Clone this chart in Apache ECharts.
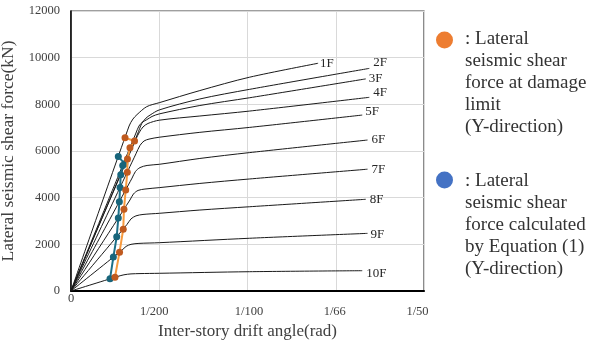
<!DOCTYPE html>
<html>
<head>
<meta charset="utf-8">
<script src="https://cdn.jsdelivr.net/npm/echarts@6/dist/echarts.min.js"></script>
<style>
html,body{margin:0;padding:0;background:#fff;}
#chart{width:589px;height:345px;}
</style>
</head>
<body>
<div id="chart"></div>
<script>
// ---- data (x: inter-story drift angle in rad, y: lateral seismic shear force in kN) ----
const floorNames = ['1F','2F','3F','4F','5F','6F','7F','8F','9F','10F'];
const curve1F  = [[0,0],[0.00329,7070],[0.00351,7370],[0.00374,7560],[0.00429,7900],[0.0050,8070],[0.0073,8590],[0.0101,9160],[0.0140,9760]];
const curve2F  = [[0,0],[0.00377,6730],[0.00401,7180],[0.00425,7410],[0.00448,7540],[0.0050,7760],[0.0073,8230],[0.0101,8640],[0.0169,9540]];
const curve3F  = [[0,0],[0.00368,6770],[0.00385,7070],[0.00402,7220],[0.00429,7340],[0.00459,7480],[0.0050,7590],[0.0073,7950],[0.0101,8280],[0.0167,9090]];
const curve4F  = [[0,0],[0.00368,6510],[0.00388,6810],[0.00408,7030],[0.00436,7180],[0.0050,7320],[0.0073,7500],[0.0101,7710],[0.0169,8300]];
const curve5F  = [[0,0],[0.00368,5880],[0.00391,6240],[0.00414,6430],[0.00442,6510],[0.0050,6590],[0.0073,6800],[0.0101,7010],[0.0165,7540]];
const curve6F  = [[0,0],[0.00346,4840],[0.00365,5120],[0.00391,5290],[0.00431,5380],[0.0050,5430],[0.0073,5680],[0.0101,5930],[0.0168,6470]];
const curve7F  = [[0,0],[0.00334,3900],[0.00354,4160],[0.0038,4310],[0.00419,4370],[0.0050,4430],[0.0073,4610],[0.0101,4800],[0.0168,5220]];
const curve8F  = [[0,0],[0.00317,2850],[0.0034,3090],[0.00368,3220],[0.00408,3280],[0.0050,3330],[0.0073,3470],[0.0101,3610],[0.0167,3930]];
const curve9F  = [[0,0],[0.00289,1750],[0.00312,1910],[0.0034,2000],[0.00385,2040],[0.0050,2070],[0.0101,2260],[0.0168,2470]];
const curve10F = [[0,0],[0.00266,626],[0.0030,694],[0.0034,733],[0.00391,746],[0.0050,759],[0.0101,827],[0.0165,870]];
const curves = [curve1F,curve2F,curve3F,curve4F,curve5F,curve6F,curve7F,curve8F,curve9F,curve10F];

// shear at damage limit (orange) and by Equation (1) (blue), floors 1F..10F
const damageLimit = [[0.00306,6570],[0.0036,6430],[0.00334,6140],[0.0032,5660],[0.00319,5090],[0.0031,4330],[0.0030,3500],[0.00296,2650],[0.00275,1665],[0.00249,587]];
const equationShear = [[0.00268,5760],[0.00305,5450],[0.00293,5380],[0.00282,4980],[0.00278,4440],[0.00274,3830],[0.00268,3130],[0.00259,2330],[0.0024,1455],[0.00221,520]];

const xTickLabels = ['0','1/200','1/100','1/66','1/50'];
const yMin = 0, yMax = 12000, yStep = 2000;
const xMin = 0, xMax = 0.02, xStep = 0.005;

const legendDamage = ': Lateral\nseismic shear\nforce at damage\nlimit\n(Y-direction)';
const legendEquation = ': Lateral\nseismic shear\nforce calculated\nby Equation (1)\n(Y-direction)';

// ---- styling ----
const serif = '"Liberation Serif","Times New Roman",serif';
const endOffsets = [[0,0],[2,-6],[1,0],[2,-5],[1,-3],[2,0],[2,0],[2,0],[1,1],[2,3]];

const chart = echarts.init(document.getElementById('chart'), null, {renderer:'canvas'});

const series = curves.map((c, i) => ({
  name: floorNames[i],
  type: 'line',
  data: c,
  showSymbol: false,
  symbol: 'none',
  smooth: 0.3,
  lineStyle: {color:'#1a1a1a', width:1},
  emphasis: {disabled:true},
  endLabel: {
    show: true,
    formatter: floorNames[i],
    distance: 2,
    offset: endOffsets[i],
    fontFamily: serif,
    fontSize: 13,
    color: '#262626'
  },
  z: 2
}));

series.push({
  name: 'equation',
  type: 'line',
  data: equationShear,
  symbol: 'circle',
  symbolSize: 7,
  showSymbol: true,
  lineStyle: {color:'#1d7088', width:2},
  itemStyle: {color:'#18657b'},
  emphasis: {disabled:true},
  z: 3
});
series.push({
  name: 'damage',
  type: 'line',
  data: damageLimit,
  symbol: 'circle',
  symbolSize: 7,
  showSymbol: true,
  lineStyle: {color:'#f79a3e', width:2},
  itemStyle: {color:'#bf5a1f'},
  emphasis: {disabled:true},
  z: 4
});

const richBase = {fontFamily: serif, fontSize: 12.5, color:'#404040'};
const option = {
  animation: false,
  backgroundColor: '#ffffff',
  grid: {left:71, top:11, right:165, bottom:54, containLabel:false, outerBoundsMode:'none',
         show:true, borderColor:'#404040', borderWidth:1.2, backgroundColor:'transparent'},
  xAxis: {
    type: 'value',
    min: xMin, max: xMax, interval: xStep,
    name: 'Inter-story drift angle(rad)',
    nameLocation: 'middle',
    nameGap: 27,
    nameTextStyle: {fontFamily: serif, fontSize: 17, color:'#404040'},
    axisLine: {show:true, lineStyle:{color:'#000', width:2}},
    axisTick: {show:false},
    splitLine: {show:true, lineStyle:{color:'#d9d9d9', width:1}},
    axisLabel: {
      margin: 1,
      formatter: function (v) {
        const i = Math.round(v / xStep);
        if (i === 0) return '{z|' + xTickLabels[0] + '}';
        return '{t' + i + '|' + xTickLabels[i] + '}';
      },
      rich: {
        z: Object.assign({}, richBase),
        t1: Object.assign({padding:[13,10,0,0]}, richBase),
        t2: Object.assign({padding:[13,0,0,3]}, richBase),
        t3: Object.assign({padding:[13,2,0,0]}, richBase),
        t4: Object.assign({padding:[13,13,0,0]}, richBase)
      }
    }
  },
  yAxis: {
    type: 'value',
    min: yMin, max: yMax, interval: yStep,
    name: 'Lateral seismic shear force(kN)',
    nameLocation: 'middle',
    nameGap: 38,
    nameRotate: 90,
    nameTextStyle: {fontFamily: serif, fontSize: 17.5, color:'#404040'},
    axisLine: {show:true, lineStyle:{color:'#000', width:1.5}},
    axisTick: {show:false},
    splitLine: {show:true, lineStyle:{color:'#d9d9d9', width:1}},
    axisLabel: {margin: 11, fontFamily: serif, fontSize: 12.5, color:'#404040',
                formatter: function (v) { return String(v); }}
  },
  graphic: [
    {type:'circle', shape:{cx:444.5, cy:40, r:8.5}, style:{fill:'#ED7D31'}},
    {type:'text', x:465, y:28, style:{text:legendDamage, fontFamily:serif, fontSize:19, lineHeight:22, fill:'#333333'}},
    {type:'circle', shape:{cx:444.5, cy:180, r:8.5}, style:{fill:'#4472C4'}},
    {type:'text', x:465, y:170, style:{text:legendEquation, fontFamily:serif, fontSize:19, lineHeight:22, fill:'#333333'}}
  ],
  series: series
};
chart.setOption(option);
</script>
</body>
</html>
